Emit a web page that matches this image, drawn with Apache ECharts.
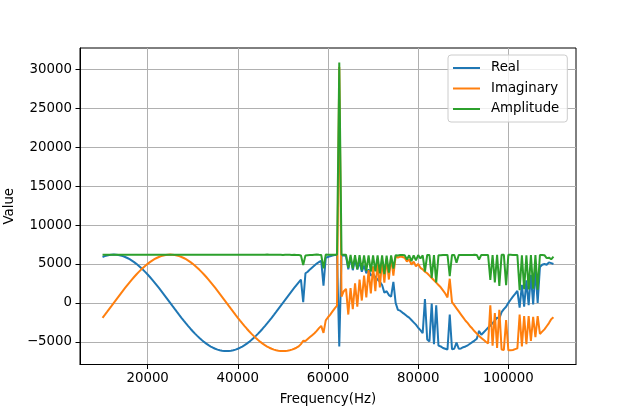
<!DOCTYPE html>
<html>
<head>
<meta charset="utf-8">
<script src="https://cdn.jsdelivr.net/npm/echarts@6/dist/echarts.min.js"></script>
<style>
  html, body { margin: 0; padding: 0; background: #fff; }
  #chart { width: 640px; height: 409px; }
</style>
</head>
<body>
<div id="chart"></div>
<script>
// sampling grid of the sweep
const FREQ_START = 10000;
const FREQ_STEP = 500;

// values, 10000 Hz .. 110000 Hz every 500 Hz
const realValues = [
  5897, 6005, 6090, 6151, 6188, 6200, 6188, 6151, 6090, 6005,
  5897, 5765, 5610, 5433, 5235, 5016, 4777, 4520, 4244, 3952,
  3644, 3322, 2987, 2640, 2282, 1916, 1542, 1162, 777, 389,
  0, -389, -777, -1162, -1542, -1916, -2282, -2640, -2987, -3322,
  -3644, -3952, -4244, -4520, -4777, -5016, -5235, -5433, -5610, -5765,
  -5897, -6005, -6090, -6151, -6188, -6200, -6188, -6151, -6090, -6005,
  -5897, -5765, -5610, -5433, -5235, -5016, -4777, -4520, -4244, -3952,
  -3644, -3322, -2987, -2640, -2282, -1916, -1542, -1162, -777, -389,
  0, 389, 777, 1162, 1542, 1916, 2282, 2640,
  2987, 100, 3800, 4000, 4300, 4550, 4800, 5050, 5250, 5400,
  2200, 5800, 5900, 6000, 6080, 6140, 6180, -5600, 6150, 6100,
  6000, 4300, 5850, 4200, 5600, 4300, 5250, 4000, 4800, 3800,
  4300, 3500, 3700, 3300, 3000, 2700, 2300, 1300, 1500, 1000,
  800, 2700, 0, -900, -1000, -1250, -1450, -1700, -1900, -2200,
  -2500, -2800, -3200, -3500, -3900, 500, -4700, -4950, -100, -5300,
  -300, -5500, -5600, -5800, -5900, -6000, -1500, -5950, -5900, -5100,
  -5900, -5850, -5700, -5600, -5450, -5250, -5050, -4850, -4600, -3600,
  -4100, -3800, -3500, -3200, -2900, -2600, -2300, -1900, -2000, -1200,
  -800, -500, 0, 400, 800, 1150, 1550, -600, 2300, -500,
  2900, -300, 3600, -200, 4200, 0, 4600, 4900, 5000, 4900,
  5200, 5100, 5000
];
const imagValues = [
  -1916, -1542, -1162, -777, -389, 0, 389, 777, 1162, 1542,
  1916, 2282, 2640, 2987, 3322, 3644, 3952, 4244, 4520, 4777,
  5016, 5235, 5433, 5610, 5765, 5897, 6005, 6090, 6151, 6188,
  6200, 6188, 6151, 6090, 6005, 5897, 5765, 5610, 5433, 5235,
  5016, 4777, 4520, 4244, 3952, 3644, 3322, 2987, 2640, 2282,
  1916, 1542, 1162, 777, 389, 0, -389, -777, -1162, -1542,
  -1916, -2282, -2640, -2987, -3322, -3644, -3952, -4244, -4520, -4777,
  -5016, -5235, -5433, -5610, -5765, -5897, -6005, -6090, -6151, -6188,
  -6200, -6188, -6151, -6090, -6005, -5897, -5765, -5590,
  -5300, -4870, -4900, -4650, -4400, -4150, -3900, -3600, -3250, -2950,
  -3850, -2250, -1850, -1500, -1100, -700, -350, 30300, 800, 1500,
  1800, -1500, 1900, -800, 2500, -500, 3000, 300, 3500, 700,
  4200, 1200, 4700, 1500, 5200, 2000, 5500, 2600, 5700, 3000,
  5850, 3500, 6000, 5800, 5950, 5900, 5800, 5300, 5600, 4900,
  5300, 4700, 5000, 4500, 4300, 4000, 3800, 3500, 3200, 2900,
  2600, 2300, 2000, 1600, 1200, 700, 3100, 100, -300, -700,
  -1100, -1500, -1900, -2300, -2600, -3000, -3300, -3650, -3950, -4250,
  -4500, -4750, -5000, -5200, -300, -5500, -1300, -5800, -900, -6000,
  -6050, -2200, -6100, -6100, -6050, -5950, -5850, -1500, -5600, -1700,
  -5300, -1700, -4900, -1800, -4400, -1700, -4000, -3700, -3400, -3000,
  -2600, -2100, -1850
];
const ampValues = [
  6180, 6185, 6180, 6180, 6185, 6180, 6180, 6175, 6180, 6180,
  6180, 6185, 6180, 6180, 6180, 6175, 6180, 6180, 6185, 6180,
  6180, 6180, 6180, 6185, 6180, 6180, 6180, 6175, 6180, 6180,
  6180, 6180, 6185, 6180, 6180, 6180, 6180, 6180, 6175, 6180,
  6180, 6185, 6180, 6180, 6180, 6180, 6180, 6185, 6180, 6180,
  6180, 6180, 6175, 6180, 6180, 6180, 6185, 6180, 6180, 6180,
  6180, 6180, 6180, 6180, 6175, 6180, 6180, 6180, 6180, 6185,
  6180, 6180, 6180, 6200, 6170, 6180, 6180, 6180, 6180, 6180,
  6160, 6180, 6170, 6180, 6150, 6170, 6160, 6150,
  6080, 4870, 6100, 6130, 6150, 6160, 6180, 6200, 6170, 6150,
  4430, 6200, 6180, 6180, 6170, 6180, 6190, 30900, 6180, 6170,
  6180, 4500, 6150, 4400, 6140, 4300, 6120, 4200, 6100, 4100,
  6110, 4000, 6100, 4050, 6100, 3800, 6090, 3700, 6080, 3900,
  6090, 4420, 6120, 6100, 6150, 6150, 6130, 5570, 6120, 5370,
  6110, 5470, 6140, 5700, 6100, 4030, 6150, 6150, 3200, 6140,
  2620, 6120, 6120, 6150, 6150, 6160, 3440, 6160, 6150, 5150,
  6150, 6160, 6140, 6160, 6150, 6160, 6150, 6170, 6160, 5570,
  6160, 6150, 6160, 6150, 2940, 6150, 2640, 6160, 2190, 6170,
  6170, 2260, 6170, 6170, 6160, 6150, 6140, 1620, 6120, 1770,
  6120, 1730, 6130, 1810, 6140, 1700, 6150, 6160, 6130, 5750,
  5810, 5600, 5950
];

const xTicks = [20000, 40000, 60000, 80000, 100000];
const yTicks = [-5000, 0, 5000, 10000, 15000, 20000, 25000, 30000];
const seriesNames = ['Real', 'Imaginary', 'Amplitude'];
const seriesColors = ['#1f77b4', '#ff7f0e', '#2ca02c'];

const freqs = realValues.map((_, i) => FREQ_START + i * FREQ_STEP);
const toPairs = vals => vals.map((v, i) => [freqs[i], v]);
const allValues = [realValues, imagValues, ampValues];

const FONT = 'DejaVu Sans';
const FS = 13.33;

const chart = echarts.init(document.getElementById('chart'), null, { renderer: 'canvas' });

chart.setOption({
  animation: false,
  backgroundColor: '#fff',
  textStyle: { fontFamily: FONT },
  grid: {
    left: 80,
    right: 64,
    top: 48,
    bottom: 44.5,
    outerBoundsMode: 'none',
    containLabel: false,
    show: true,
    borderColor: '#000',
    borderWidth: 1,
    backgroundColor: 'transparent'
  },
  legend: {
    data: seriesNames,
    orient: 'vertical',
    left: 448,
    top: 55,
    padding: [6, 8, 6, 5],
    itemGap: 6.5,
    itemWidth: 27,
    itemHeight: 2,
    icon: 'rect',
    backgroundColor: 'rgba(255,255,255,0.8)',
    borderColor: '#cccccc',
    borderWidth: 1,
    borderRadius: 3,
    textStyle: {
      fontFamily: FONT,
      fontSize: FS,
      color: '#000',
      lineHeight: 14,
      padding: [0, 0, 0, 6]
    }
  },
  xAxis: {
    type: 'value',
    min: 5000,
    max: 115000,
    name: 'Frequency(Hz)',
    nameLocation: 'middle',
    nameGap: 29,
    nameTextStyle: { fontFamily: FONT, fontSize: FS, color: '#000' },
    axisLine: { show: true, onZero: false, lineStyle: { color: '#000', width: 1 } },
    axisTick: { show: true, length: 4.5, customValues: xTicks, lineStyle: { color: '#000' } },
    axisLabel: {
      customValues: xTicks,
      margin: 8,
      fontFamily: FONT,
      fontSize: FS,
      color: '#000',
      formatter: v => String(v)
    },
    splitLine: { show: true, lineStyle: { color: '#b0b0b0', width: 1 } }
  },
  yAxis: {
    type: 'value',
    min: -7920,
    max: 32750,
    name: 'Value',
    nameLocation: 'middle',
    nameGap: 63,
    nameTextStyle: { fontFamily: FONT, fontSize: FS, color: '#000' },
    axisLine: { show: true, onZero: false, lineStyle: { color: '#000', width: 1 } },
    axisTick: { show: true, length: 4.5, customValues: yTicks, lineStyle: { color: '#000' } },
    axisLabel: {
      customValues: yTicks,
      margin: 8,
      padding: [3, 0, 0, 0],
      fontFamily: FONT,
      fontSize: FS,
      color: '#000',
      formatter: v => String(v).replace('-', '\u2212')
    },
    splitLine: { show: true, lineStyle: { color: '#b0b0b0', width: 1 } }
  },
  series: seriesNames.map((name, k) => ({
    name: name,
    type: 'line',
    data: toPairs(allValues[k]),
    showSymbol: false,
    symbol: 'none',
    lineStyle: { color: seriesColors[k], width: 2 },
    itemStyle: { color: seriesColors[k] },
    clip: true,
    z: 2 + k
  }))
});
</script>
</body>
</html>
